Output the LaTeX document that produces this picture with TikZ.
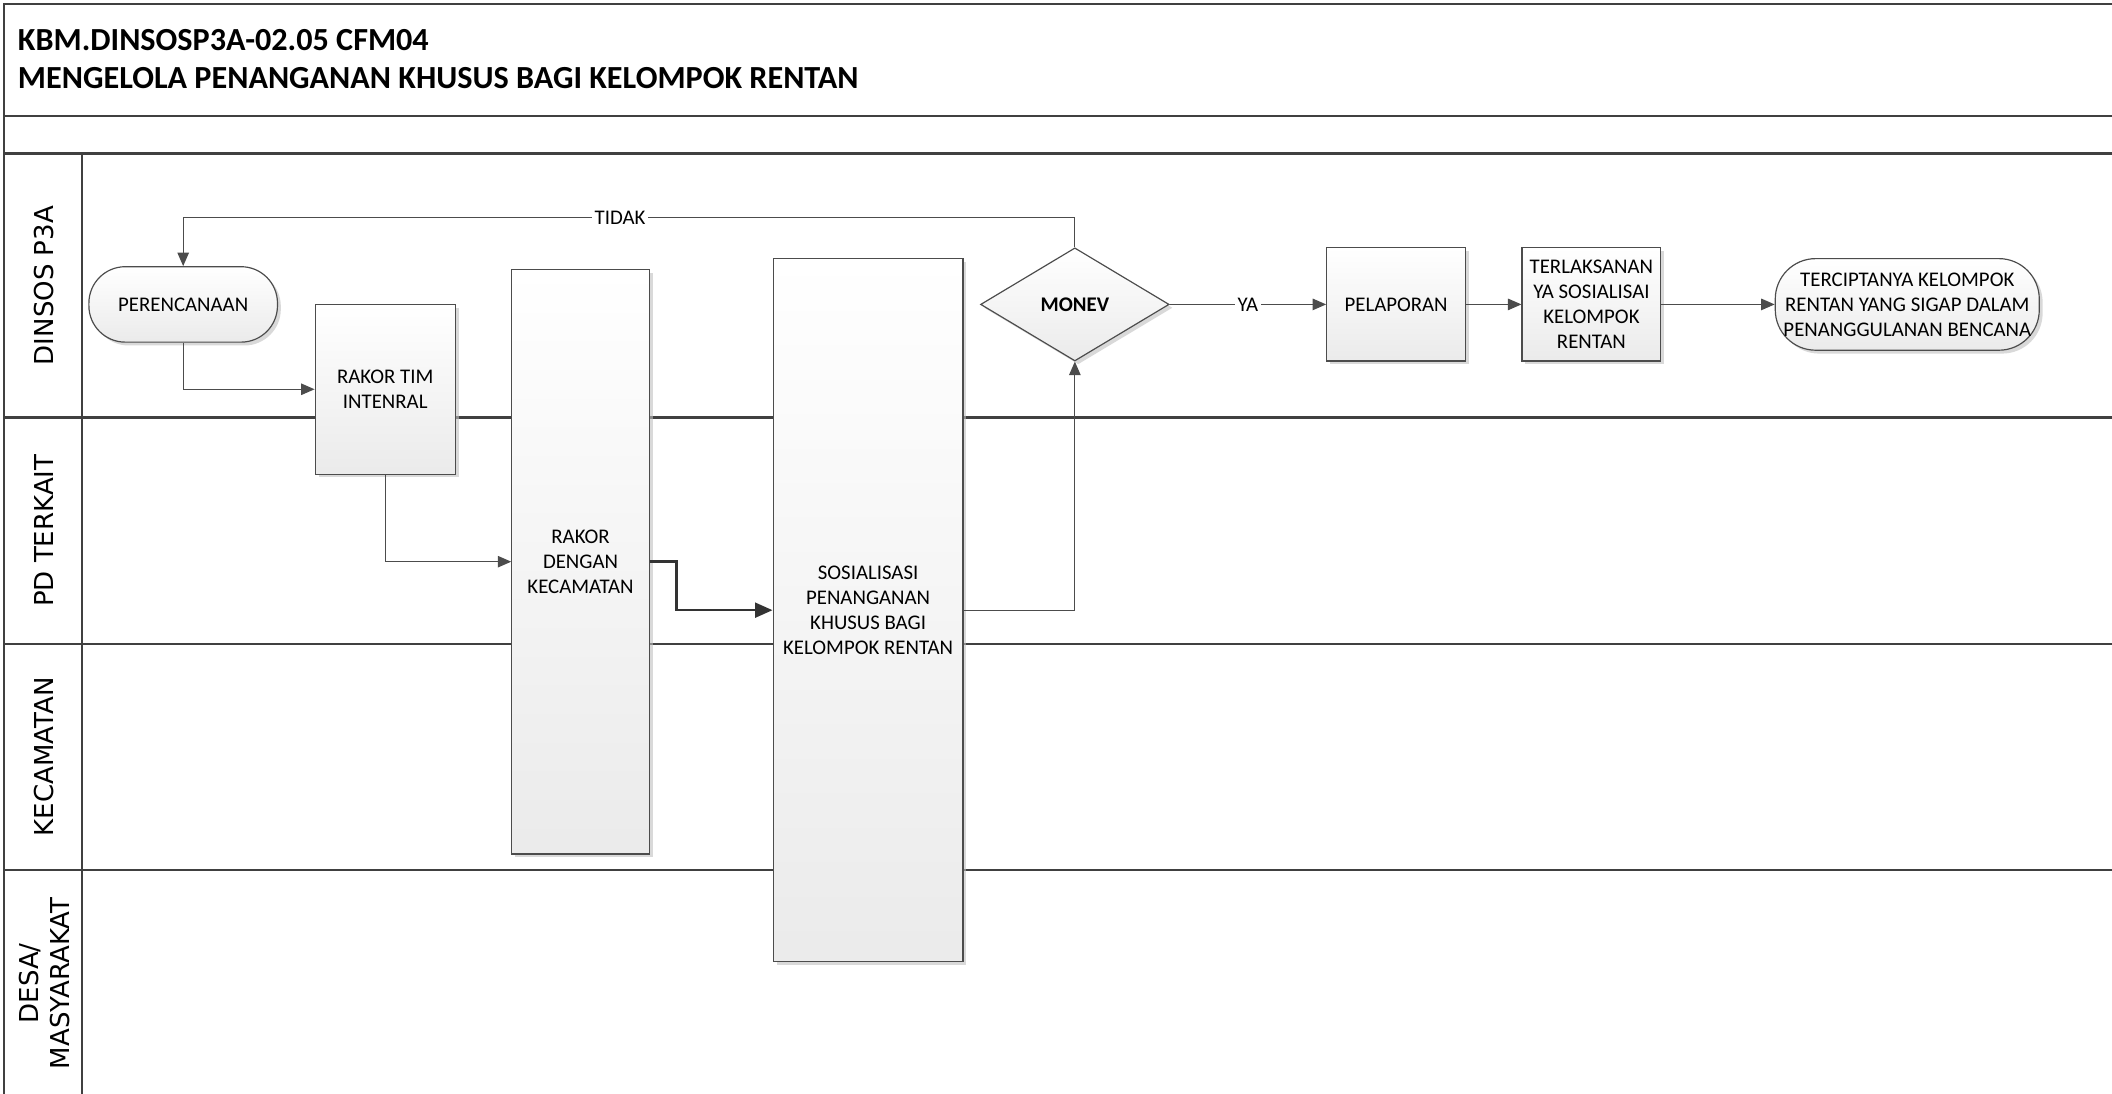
\documentclass[tikz,border=0pt]{standalone}
\usepackage{fontspec}
\setmainfont{Carlito}
\newfontfamily\lanefont{DejaVu Sans}
\usetikzlibrary{positioning, arrows.meta, shapes.geometric, shadows}

\begin{document}
\begin{tikzpicture}[
  x=0.2mm, y=-0.2mm,
  font=\fontsize{8.8}{10.6}\selectfont,
  frame/.style={draw=black!75, line width=1.1pt},
  lane/.style ={font=\lanefont\fontsize{11}{13}\selectfont, rotate=90, align=center},
  box/.style  ={draw=black!70, line width=0.5pt, top color=white, bottom color=black!8,
                align=center, inner xsep=1pt,
                drop shadow={shadow xshift=0.5mm, shadow yshift=-0.5mm, fill=black!25, opacity=0.6}},
  term/.style ={box, rectangle},
  dec/.style  ={box, diamond, inner sep=0pt},
  lbl/.style  ={fill=white, inner sep=1pt},
  arr/.style  ={-{Triangle[length=2mm, width=1.7mm]}, draw=black!70, line width=0.5pt},
  arrb/.style ={-{Triangle[length=2.6mm, width=2.2mm]}, draw=black!80, line width=1.1pt},
]
\useasboundingbox (0,0) rectangle (1568,812);
\clip (0,0) rectangle (1568,812);

% frame and lanes
\draw[frame] (3,820) |- (1580,3);
\draw[frame] (3,86) -- (1580,86);
\draw[frame] (3,114) -- (1580,114);
\draw[frame] (61,114) -- (61,820);
\foreach \y in {310,478,646}
  \draw[frame] (3,\y) -- (1580,\y);

\node[anchor=west, align=left, inner sep=0pt, font=\fontsize{13.6}{16}\selectfont\bfseries] (title) at (13,44)
  {KBM.DINSOSP3A-02.05 CFM04\\MENGELOLA PENANGANAN KHUSUS BAGI KELOMPOK RENTAN};

\node[lane] (dinsos) at (33,212) {DINSOS P3A};
\node[lane] (pd)     at (33,394) {PD TERKAIT};
\node[lane] (kec)    at (33,562) {KECAMATAN};
\node[lane] (desa)   at (33,730) {DESA/\\MASYARAKAT};

% steps
\node[term, rounded corners=5.4mm, minimum width=28mm, minimum height=11.2mm] (plan) at (136,226) {PERENCANAAN};
\node[box, minimum width=20.8mm, minimum height=25.2mm]  (rtim) at (286,289) {RAKOR TIM\\INTENRAL};
\node[box, minimum width=20.4mm, minimum height=86.8mm]  (rkec) at (431,417) {RAKOR\\DENGAN\\KECAMATAN};
\node[box, minimum width=28.2mm, minimum height=104.4mm] (sos)  at (644.5,453) {SOSIALISASI\\PENANGANAN\\KHUSUS BAGI\\KELOMPOK RENTAN};
\node[dec, minimum width=28mm, minimum height=16.8mm, font=\fontsize{8.8}{10.6}\selectfont\bfseries] (monev) at (798,226) {MONEV};
\node[box, minimum width=20.6mm, minimum height=16.8mm]  (lapor)   at (1036.5,226) {PELAPORAN};
\node[box, minimum width=20.6mm, minimum height=16.8mm]  (laksana) at (1181.5,226) {TERLAKSANAN\\YA SOSIALISAI\\KELOMPOK\\RENTAN};
\node[term, rounded corners=6mm, minimum width=39.2mm, minimum height=13.6mm] (hasil) at (1416,226)
  {TERCIPTANYA KELOMPOK\\RENTAN YANG SIGAP DALAM\\PENANGGULANAN BENCANA};

% connectors
\draw[arr]  (plan.south) |- (rtim.west);
\draw[arr]  (rtim.south) |- (rkec.west);
\draw[arrb] (rkec.east) -- ++(20,0) |- (sos.west);
\draw[arr]  (sos.east) -| (monev.south);
\draw[arr]  (monev.north) -- ++(0,-22) coordinate (back)
  -- (back -| plan.north) node[lbl, pos=0.51] {TIDAK} -- (plan.north);
\draw[arr]  (monev.east) -- node[lbl] {YA} (lapor.west);
\foreach \a/\b in {lapor/laksana, laksana/hasil}
  \draw[arr] (\a) -- (\b);
\end{tikzpicture}
\end{document}
